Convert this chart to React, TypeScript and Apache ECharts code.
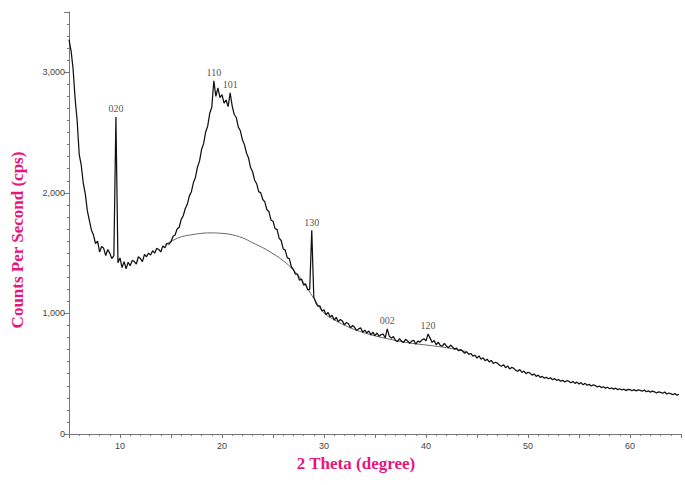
import React, { useEffect, useRef } from "react";
import * as echarts from "echarts";

// 2θ grid: 5.0° .. 64.8°, step 0.2°
const angleStart = 5;
const angleStep = 0.2;

// Counts per second (one row = 2 degrees)
const counts: number[] = [
  3270, 3180, 3030, 2780, 2600, 2320, 2230, 2080, 1990, 1850, // 5.0
  1770, 1690, 1650, 1580, 1600, 1510, 1555, 1540, 1480, 1530, // 7.0
  1500, 1455, 1480, 2630, 1420, 1460, 1380, 1430, 1370, 1425, // 9.0
  1395, 1440, 1430, 1410, 1470, 1455, 1430, 1490, 1470, 1500, // 11.0
  1485, 1520, 1500, 1540, 1530, 1510, 1560, 1545, 1580, 1575, // 13.0
  1595, 1640, 1650, 1700, 1715, 1780, 1810, 1870, 1905, 1975, // 15.0
  2010, 2085, 2130, 2215, 2265, 2360, 2410, 2505, 2555, 2660, // 17.0
  2710, 2930, 2800, 2870, 2790, 2815, 2745, 2770, 2715, 2830, // 19.0
  2720, 2650, 2625, 2545, 2515, 2440, 2400, 2330, 2290, 2210, // 21.0
  2175, 2105, 2075, 2010, 2000, 1945, 1925, 1860, 1845, 1775, // 23.0
  1765, 1705, 1695, 1625, 1605, 1535, 1525, 1460, 1455, 1385, // 25.0
  1365, 1325, 1325, 1275, 1285, 1235, 1245, 1195, 1200, 1690, // 27.0
  1135, 1090, 1060, 1062, 1020, 1030, 990, 1008, 970, 985,    // 29.0
  945, 968, 930, 950, 938, 905, 925, 915, 880, 900,           // 31.0
  885, 858, 872, 880, 845, 862, 838, 855, 822, 845,           // 33.0
  815, 838, 810, 825, 828, 798, 872, 812, 795, 808,           // 35.0
  778, 765, 792, 770, 760, 785, 772, 752, 770, 778,           // 37.0
  745, 770, 762, 780, 790, 772, 830, 795, 760, 775,           // 39.0
  740, 762, 735, 728, 752, 730, 715, 738, 722, 705,           // 41.0
  712, 690, 700, 686, 670, 682, 660, 668, 645, 655,           // 43.0
  630, 648, 620, 632, 608, 620, 598, 610, 585, 595,           // 45.0
  588, 570, 562, 575, 550, 565, 540, 552, 545, 528,           // 47.0
  520, 535, 510, 522, 500, 512, 505, 488, 498, 478,           // 49.0
  488, 470, 478, 462, 470, 458, 466, 450, 460, 445,           // 51.0
  452, 438, 445, 432, 442, 438, 425, 436, 420, 430,           // 53.0
  415, 426, 408, 420, 404, 412, 398, 408, 402, 390,           // 55.0
  398, 385, 392, 380, 388, 375, 382, 372, 380, 368,           // 57.0
  375, 365, 372, 360, 370, 368, 358, 368, 356, 366,           // 59.0
  362, 355, 365, 350, 358, 346, 356, 350, 340, 350,           // 61.0
  345, 338, 348, 332, 340, 335, 326, 336, 322, 330,           // 63.0
];

// Amorphous halo (smooth fitted background)
const haloAngle = [14.4, 15, 16, 17, 18, 18.8, 20, 21, 22, 23, 24, 25, 26, 27, 28, 29, 30, 31, 32, 33, 34, 35, 36, 37, 38, 39, 40, 41, 42, 43, 44];
const haloCounts = [1570, 1598, 1635, 1652, 1664, 1668, 1664, 1652, 1627, 1586, 1545, 1495, 1437, 1360, 1255, 1125, 1005, 948, 903, 866, 838, 814, 794, 776, 760, 748, 738, 728, 716, 700, 684];

// Peak annotations (Miller indices)
const peakHkl = ["020", "110", "101", "130", "002", "120"];
const peakAngle = [9.6, 19.2, 20.8, 28.8, 36.2, 40.2];
const peakCounts = [2630, 2930, 2830, 1690, 875, 830];

const pink = "#e5177b";

export default function App() {
  const ref = useRef<HTMLDivElement>(null);

  useEffect(() => {
    if (!ref.current) return;
    const chart = echarts.init(ref.current, undefined, { renderer: "svg" });
    const data = counts.map((c, i) => [+(angleStart + i * angleStep).toFixed(1), c]);
    const halo = haloAngle.map((a, i) => [a, haloCounts[i]]);
    const peaks = peakAngle.map((a, i) => ({ value: [a, peakCounts[i]], name: peakHkl[i] }));

    chart.setOption({
      animation: false,
      backgroundColor: "#ffffff",
      grid: { left: 69, right: 4, top: 12, bottom: 51, containLabel: false },
      xAxis: {
        type: "value",
        min: 5,
        max: 65,
        interval: 5,
        axisLine: { show: true, onZero: false, lineStyle: { color: "#777", width: 1 } },
        axisTick: { show: true, length: 4, lineStyle: { color: "#777" } },
        minorTick: { show: true, splitNumber: 5, length: 2, lineStyle: { color: "#777" } },
        splitLine: { show: false },
        axisLabel: {
          color: "#444",
          fontSize: 9,
          fontFamily: "Liberation Sans, Arial, sans-serif",
          margin: 7,
          formatter: (v: number) => (v % 10 === 0 && v > 5 && v < 65 ? String(v) : ""),
        },
      },
      yAxis: {
        type: "value",
        min: 0,
        max: 3500,
        interval: 1000,
        axisLine: { show: true, onZero: false, lineStyle: { color: "#777", width: 1 } },
        axisTick: { show: true, length: 5, lineStyle: { color: "#777" } },
        minorTick: { show: true, splitNumber: 10, length: 2, lineStyle: { color: "#777" } },
        splitLine: { show: false },
        axisLabel: {
          color: "#444",
          fontSize: 9,
          fontFamily: "Liberation Sans, Arial, sans-serif",
          margin: 4,
          showMaxLabel: false,
          formatter: (v: number) => (v % 1000 === 0 ? v.toLocaleString("en-US") : ""),
        },
      },
      series: [
        {
          type: "line",
          data: halo,
          smooth: true,
          showSymbol: false,
          lineStyle: { color: "#666", width: 1 },
          z: 2,
        },
        {
          type: "line",
          data,
          showSymbol: false,
          lineStyle: { color: "#111", width: 1.25 },
          z: 3,
        },
        {
          type: "scatter",
          data: peaks,
          symbolSize: 0,
          z: 4,
          label: {
            show: true,
            position: "top",
            distance: 3,
            formatter: (p: any) => p.name,
            color: "#222",
            fontSize: 10,
            fontFamily: "Liberation Serif, Times New Roman, serif",
          },
        },
      ],
      graphic: [
        {
          type: "text",
          x: 17,
          y: 240,
          rotation: Math.PI / 2,
          style: {
            text: "Counts Per Second (cps)",
            fill: pink,
            font: "bold 17px 'Liberation Serif', 'Times New Roman', serif",
            align: "center",
            verticalAlign: "middle",
          },
        },
        {
          type: "text",
          x: 356,
          y: 463,
          style: {
            text: "2 Theta (degree)",
            fill: pink,
            font: "bold 17px 'Liberation Serif', 'Times New Roman', serif",
            align: "center",
            verticalAlign: "middle",
          },
        },
      ],
    });

    return () => chart.dispose();
  }, []);

  return (
    <div
      ref={ref}
      style={{ position: "fixed", left: 0, top: 0, width: 685, height: 485, background: "#fff" }}
    />
  );
}
